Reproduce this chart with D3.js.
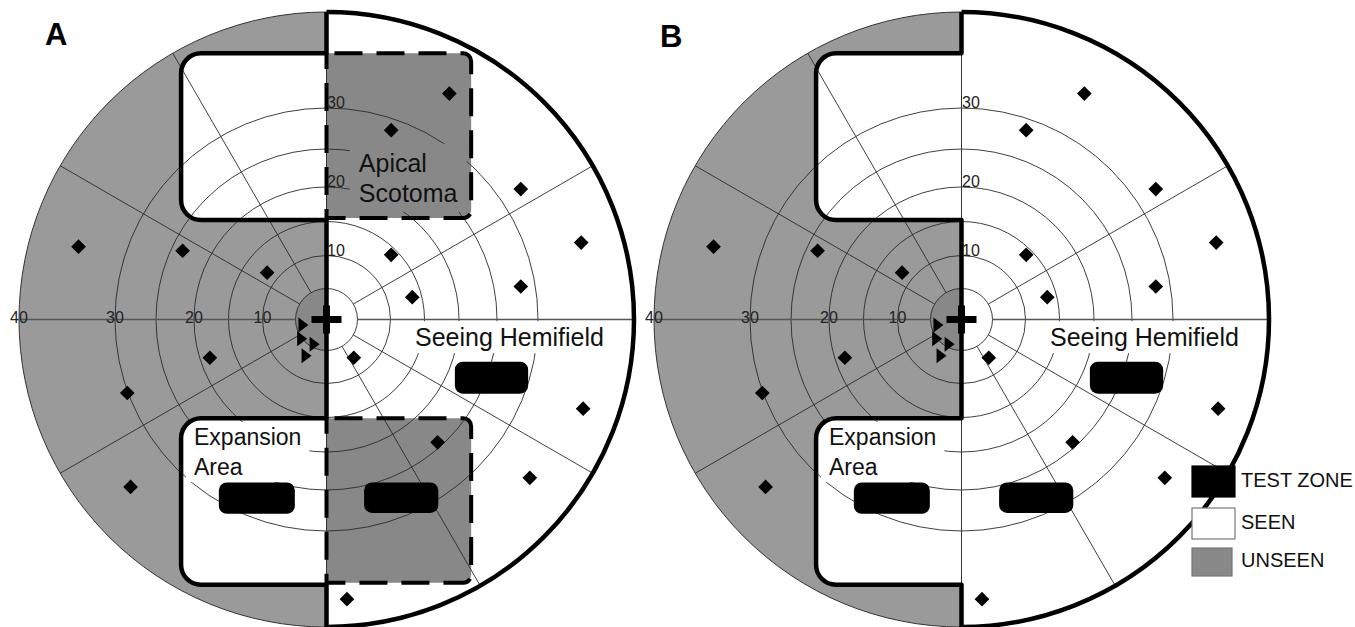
<!DOCTYPE html>
<html><head><meta charset="utf-8">
<script src="https://cdn.jsdelivr.net/npm/d3@7"></script>
<style>
body{margin:0;background:#fff;}
svg{display:block;font-family:"Liberation Sans",Arial,sans-serif;}
</style>
</head><body>
<svg id="chart" width="1355" height="627"></svg>
<script>
// ---------------- data (visual-field degrees) ----------------
const panelNames = ["A", "B"];
const ringEcc = [5, 10, 15, 20, 25, 30, 40];
const hLabels = [10, 20, 30, 40];
const vLabels = [10, 20, 30];
const spokeAngles = [30, 120, 150, 210, 300, 330];
// eccentricity knots of the (non-uniform) radial grid
const eccKnots = [0, 5, 10, 15, 20, 25, 30, 40];
// target diamonds
const diamondX = [18.6, 10.1, 27.9, 34.5, 10.1, 27.9, 13.2, -33.8, -21.5, -9.3, 4.4, -17.7, -28.5, -28.1, 16.9, 34.7, 29.0, 3.3];
const diamondY = [31.5, 27.3, 19.7, 11.9, 10.1, 5.3, 3.6, 11.3, 10.7, 7.4, -6.1, -6.1, -11.4, -24.6, -18.6, -13.7, -23.4, -37.1];
// near-fixation triangles
const triX = [-3.8, -4.0, -2.0, -3.3];
const triY = [-0.9, -3.1, -4.0, -5.8];
// test zones
const zoneX0 = [19.4, -16.4, 6.0];
const zoneX1 = [28.8, -5.1, 17.0];
const zoneY0 = [-6.7, -24.0, -24.0];
const zoneY1 = [-11.5, -27.9, -27.8];
// seen boxes inside the blind hemifield (left edge, top, bottom)
const boxLeft = [-21.7, -21.7];
const boxTop = [35.7, -15.1];
const boxBottom = [15.2, -35.6];
// apical scotoma rects (panel A only): right edge, top, bottom
const scotRight = [21.6, 21.6];
const scotTop = [35.7, -15.1];
const scotBottom = [15.5, -35.4];
// annotations
const annText = [["Apical", "Scotoma"], ["Seeing Hemifield"], ["Expansion", "Area"]];
const annX = [5.2, 13.6, -20.0];
const annY = [22.0, -4.3, -19.0];
const annPanels = [["A"], ["A", "B"], ["A", "B"]];
const legendLabels = ["TEST ZONE", "SEEN", "UNSEEN"];

// ---------------- style / layout ----------------
const GRAY = "#9a9a9a", DARK = "#888888", INK = "#111";
const centersX = [326.5, 961.5], CY = 319.5;
const eccPx = [0, 31, 64, 98, 132.5, 170.5, 211.5, 307.5];

const svg = d3.select("#chart");
const ecc = d3.scaleLinear().domain(eccKnots).range(eccPx);
const symDeg = eccKnots.slice(1).reverse().map(d => -d).concat(eccKnots);
const symPx = eccPx.slice(1).reverse().map(d => -d).concat(eccPx);
const R = ecc(40), R0 = ecc(5);

function leftBox(x0, x1, y0, y1, rc) {
  return `M${x1},${y0}H${x0 + rc}A${rc},${rc} 0 0 0 ${x0},${y0 + rc}V${y1 - rc}A${rc},${rc} 0 0 0 ${x0 + rc},${y1}H${x1}Z`;
}
function rightBox(x0, x1, y0, y1, rc) {
  return `M${x0},${y0}H${x1 - rc}A${rc},${rc} 0 0 1 ${x1},${y0 + rc}V${y1 - rc}A${rc},${rc} 0 0 1 ${x1 - rc},${y1}H${x0}Z`;
}

panelNames.forEach((name, pi) => {
  const cx = centersX[pi];
  const x = d3.scaleLinear().domain(symDeg).range(symPx.map(p => cx + p));
  const y = d3.scaleLinear().domain(symDeg).range(symPx.map(p => CY - p));
  const g = svg.append("g");
  const rc = 20;

  // hemifields
  g.append("path").attr("transform", `translate(${cx},${CY})`)
    .attr("d", d3.arc()({innerRadius: 0, outerRadius: R, startAngle: Math.PI, endAngle: 2 * Math.PI}))
    .attr("fill", GRAY);
  g.append("path").attr("transform", `translate(${cx},${CY})`)
    .attr("d", d3.arc()({innerRadius: 0, outerRadius: R, startAngle: 0, endAngle: Math.PI}))
    .attr("fill", "#fff");
  // seen boxes
  boxLeft.forEach((bl, i) => {
    g.append("path").attr("d", leftBox(x(bl), x(0), y(boxTop[i]), y(boxBottom[i]), rc)).attr("fill", "#fff");
  });
  // scotoma fills
  if (name === "A") {
    scotRight.forEach((sr, i) => {
      g.append("path").attr("d", rightBox(x(0), x(sr), y(scotTop[i]), y(scotBottom[i]), 8)).attr("fill", DARK);
    });
  }
  // inner fixation disc, left half dark
  g.append("path").attr("transform", `translate(${cx},${CY})`)
    .attr("d", d3.arc()({innerRadius: 0, outerRadius: R0, startAngle: Math.PI, endAngle: 2 * Math.PI}))
    .attr("fill", DARK);

  // grid rings
  g.selectAll("circle.ring").data(ringEcc.filter(e => e < 40)).join("circle")
    .attr("cx", cx).attr("cy", CY).attr("r", d => ecc(d))
    .attr("fill", "none").attr("stroke", "#2a2a2a").attr("stroke-width", 0.9);
  // outer thin circle (left half)
  g.append("path").attr("d", `M${cx},${CY - R}A${R},${R} 0 0 0 ${cx},${CY + R}`)
    .attr("fill", "none").attr("stroke", "#333").attr("stroke-width", 1);
  // spokes
  g.selectAll("line.spoke").data(spokeAngles).join("line")
    .attr("x1", d => cx + R0 * Math.cos(d * Math.PI / 180))
    .attr("y1", d => CY - R0 * Math.sin(d * Math.PI / 180))
    .attr("x2", d => cx + R * Math.cos(d * Math.PI / 180))
    .attr("y2", d => CY - R * Math.sin(d * Math.PI / 180))
    .attr("stroke", "#2a2a2a").attr("stroke-width", 0.9);
  // horizontal meridian
  [[-40, -5], [5, 40]].forEach(s => {
    g.append("line").attr("x1", x(s[0])).attr("x2", x(s[1])).attr("y1", CY).attr("y2", CY)
      .attr("stroke", "#555").attr("stroke-width", 1.4);
  });
  // vertical meridian thin
  g.append("line").attr("x1", cx).attr("x2", cx).attr("y1", y(40)).attr("y2", y(-40))
    .attr("stroke", "#333").attr("stroke-width", 1);

  // annotations with background
  annText.forEach((lines, ai) => {
    if (!annPanels[ai].includes(name)) return;
    const fs = ai === 2 ? 23 : 25;
    const ga = g.append("g");
    const bg = ga.append("rect");
    const t = ga.append("text").attr("x", x(annX[ai])).attr("y", y(annY[ai]))
      .attr("font-size", fs).attr("fill", INK);
    lines.forEach((ln, li) => t.append("tspan").attr("x", x(annX[ai])).attr("dy", li === 0 ? 0 : 30).text(ln));
    const bb = t.node().getBBox();
    const px = ai === 0 ? 9 : 8, py = ai === 0 ? 5 : 2;
    bg.attr("x", bb.x - px).attr("y", bb.y - py).attr("width", bb.width + 2 * px).attr("height", bb.height + 2 * py)
      .attr("fill", ai === 0 ? DARK : "#fff");
  });

  // thick seen/unseen boundary
  const x0 = x(boxLeft[0]);
  const bp = `M${cx},${CY - R}V${y(boxTop[0])}H${x0 + rc}A${rc},${rc} 0 0 0 ${x0},${y(boxTop[0]) + rc}` +
    `V${y(boxBottom[0]) - rc}A${rc},${rc} 0 0 0 ${x0 + rc},${y(boxBottom[0])}H${cx}` +
    `V${y(boxTop[1])}H${x0 + rc}A${rc},${rc} 0 0 0 ${x0},${y(boxTop[1]) + rc}` +
    `V${y(boxBottom[1]) - rc}A${rc},${rc} 0 0 0 ${x0 + rc},${y(boxBottom[1])}H${cx}V${CY + R}`;
  g.append("path").attr("d", bp).attr("fill", "none").attr("stroke", "#000")
    .attr("stroke-width", 4.5).attr("stroke-linejoin", "round");
  g.append("path").attr("d", `M${cx},${CY - R}A${R},${R} 0 0 1 ${cx},${CY + R}`)
    .attr("fill", "none").attr("stroke", "#000").attr("stroke-width", 4.5);

  if (name === "A") {
    scotRight.forEach((sr, i) => {
      g.append("path").attr("d", rightBox(x(0), x(sr), y(scotTop[i]), y(scotBottom[i]), 8))
        .attr("fill", "none").attr("stroke", "#000").attr("stroke-width", 4)
        .attr("stroke-dasharray", "28,14").attr("stroke-dashoffset", -8);
    });
  }

  // test zones
  zoneX0.forEach((zx, i) => {
    g.append("rect").attr("x", x(zx)).attr("y", y(zoneY0[i]))
      .attr("width", x(zoneX1[i]) - x(zx)).attr("height", y(zoneY1[i]) - y(zoneY0[i]))
      .attr("rx", 8).attr("fill", "#000");
  });

  // diamonds
  g.selectAll("path.dia").data(diamondX.map((d, i) => [d, diamondY[i]])).join("path")
    .attr("transform", d => `translate(${x(d[0])},${y(d[1])}) rotate(45)`)
    .attr("d", d3.symbol(d3.symbolSquare, 108)()).attr("fill", "#000");
  // triangles
  g.selectAll("path.tri").data(triX.map((d, i) => [d, triY[i]])).join("path")
    .attr("d", d => { const px = x(d[0]), py = y(d[1]); return `M${px - 4.5},${py - 7.5}L${px + 5.5},${py}L${px - 4.5},${py + 7.5}Z`; })
    .attr("fill", "#000");
  // fixation cross
  g.append("path").attr("d", `M${cx - 15},${CY}H${cx + 15}M${cx},${CY - 14}V${CY + 14}`)
    .attr("stroke", "#000").attr("stroke-width", 7);

  // axis numbers
  g.selectAll("text.h").data(hLabels).join("text")
    .attr("x", d => x(-d)).attr("y", CY - 1).attr("text-anchor", "middle").attr("dominant-baseline", "middle")
    .attr("font-size", 16).attr("fill", "#222").text(d => d);
  g.selectAll("text.v").data(vLabels).join("text")
    .attr("x", cx + 0.5).attr("y", d => y(d) - 4).attr("dominant-baseline", "middle")
    .attr("font-size", 16).attr("fill", "#222").text(d => d);

  // panel letter
  svg.append("text").attr("x", pi === 0 ? 45 : 660).attr("y", pi === 0 ? 45 : 47)
    .attr("font-size", 31).attr("font-weight", "bold").attr("fill", "#000").text(name);
});

// legend
const legFill = ["#000", "#fff", DARK];
const legY = [466, 508, 548];
const legH = [31, 31, 28];
const legW = [43, 43, 40];
legendLabels.forEach((lab, i) => {
  svg.append("rect").attr("x", 1192).attr("y", legY[i]).attr("width", legW[i]).attr("height", legH[i])
    .attr("fill", legFill[i]).attr("stroke", i === 0 ? "#000" : "#777").attr("stroke-width", 1.2);
  svg.append("text").attr("x", 1241).attr("y", legY[i] + legH[i] / 2).attr("dominant-baseline", "middle")
    .attr("font-size", 20).attr("fill", INK).text(lab);
});
</script>
</body></html>
